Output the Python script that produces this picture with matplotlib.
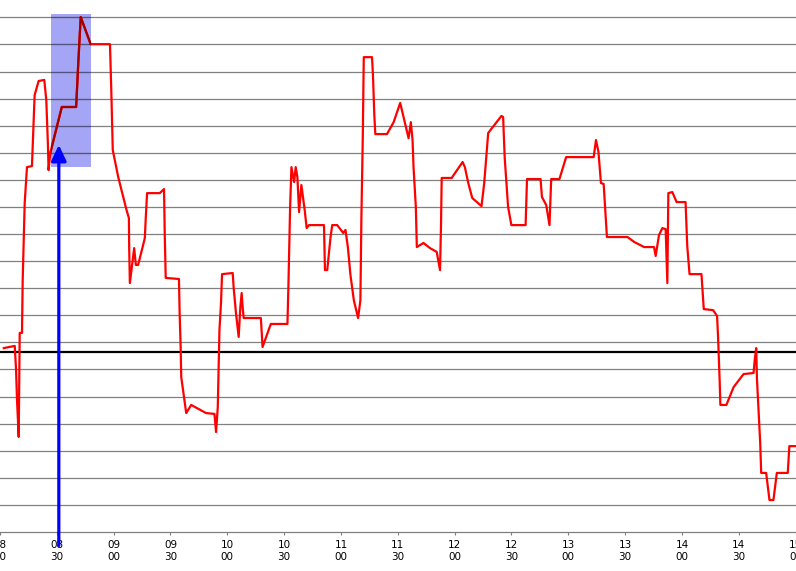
import matplotlib
matplotlib.use("Agg")
import matplotlib.pyplot as plt
from matplotlib.patches import Rectangle

# time in minutes after 08:00, value in grid units
minutes = [2.0, 7.78, 8.46, 8.98, 9.88, 10.40, 11.61, 11.98, 13.03, 14.24, 16.87, 18.28, 20.39, 23.38,
           24.43, 25.27, 25.64, 26.53, 32.63, 40.19, 41.40, 42.61, 47.86, 58.06, 58.74, 59.53, 62.42,
           66.78, 68.04, 68.20, 68.56, 69.41, 70.82, 71.72, 72.93, 76.45, 76.97, 77.65, 84.33, 86.59,
           86.95, 87.48, 94.47, 94.83, 95.36, 95.68, 98.30, 100.93, 108.81, 113.22, 114.06, 114.96,
           115.85, 116.69, 117.22, 122.84, 123.36, 124.57, 125.99, 126.88, 127.57, 128.09, 128.62,
           137.71, 138.60, 141.23, 142.96, 151.74, 152.26, 153.15, 153.84, 155.26, 156.10, 156.99,
           157.88, 159.09, 160.83, 161.88, 163.14, 171.02, 171.54, 172.75, 174.49, 175.38, 178.00,
           181.16, 182.37, 183.63, 184.99, 186.78, 189.04, 190.25, 190.77, 191.51, 192.03, 196.39,
           196.92, 197.60, 198.13, 204.28, 207.80, 211.26, 215.68, 216.88, 217.78, 218.30, 219.51,
           220.04, 223.56, 227.02, 230.54, 232.28, 232.80, 233.17, 238.43, 244.20, 245.41, 247.20,
           249.30, 254.19, 255.61, 257.71, 264.70, 265.59, 266.43, 268.22, 269.95, 277.46, 278.20,
           285.34, 286.08, 288.34, 290.07, 290.97, 295.33, 298.85, 313.40, 314.61, 315.92, 317.24,
           318.66, 320.39, 331.26, 334.73, 339.99, 345.24, 346.13, 347.87, 349.65, 351.39, 352.28,
           352.81, 354.91, 357.17, 361.90, 362.79, 364.00, 370.30, 371.51, 376.45, 378.55, 379.08,
           379.92, 380.28, 383.44, 387.27, 392.53, 397.78, 398.52, 399.20, 399.57, 400.41, 401.30,
           401.83, 404.45, 406.19, 408.29, 410.07, 415.85, 416.69, 420.21]
values = [6.79, 6.87, 6.02, 4.87, 3.51, 7.35, 7.35, 9.30, 12.14, 13.47, 13.51, 16.13, 16.65, 16.69,
          15.95, 14.36, 13.36, 13.99, 15.69, 15.69, 17.42, 19.01, 18.01, 18.01, 16.32, 14.10, 13.10,
          11.89, 11.59, 10.48, 9.19, 9.67, 10.48, 9.86, 9.86, 10.85, 11.63, 12.51, 12.51, 12.66,
          11.04, 9.38, 9.34, 8.08, 6.83, 5.72, 4.39, 4.69, 4.39, 4.36, 3.69, 4.61,
          7.46, 8.49, 9.52, 9.56, 9.01, 8.08, 7.20, 8.31, 8.82, 8.31, 7.90,
          7.90, 6.83, 7.35, 7.68, 7.68, 9.12, 12.00, 13.47, 12.92, 13.47, 13.10,
          11.81, 12.81, 11.89, 11.22, 11.33, 11.33, 9.67, 9.67, 10.89, 11.33, 11.33,
          11.04, 11.15, 10.52, 9.49, 8.56, 7.90, 8.56, 11.59, 14.58, 17.53, 17.53,
          16.80, 15.39, 14.69, 14.69, 15.13, 15.84, 14.54, 15.13, 14.47, 13.47, 12.00,
          10.52, 10.67, 10.48, 10.34, 9.67, 11.33, 13.07, 13.07, 13.66, 13.47, 12.88,
          12.33, 12.03, 12.88, 14.73, 15.36, 15.32, 13.81, 12.00, 11.33, 11.33, 13.03,
          13.03, 12.37, 12.07, 11.33, 13.03, 13.03, 13.84, 13.84, 14.47, 14.03, 12.88,
          12.85, 10.89, 10.89, 10.71, 10.52, 10.52, 10.19, 10.96, 11.22, 11.18, 9.19,
          12.51, 12.55, 12.18, 12.18, 10.56, 9.52, 9.52, 8.23, 8.19, 7.97, 7.16,
          5.54, 4.69, 4.69, 5.35, 5.83, 5.87, 6.42, 6.79, 5.68, 4.50, 3.29,
          2.18, 2.18, 1.18, 1.18, 2.18, 2.18, 3.17, 3.17]

reference_level = 6.66
arrow_time = 31.05
arrow_tip = 14.29
highlight_t0, highlight_t1 = 26.7, 48.1
highlight_v0, highlight_v1 = 13.47, 19.12

tick_minutes = list(range(0, 421, 30))
tick_labels = [f"{8 + m // 60:02d}\n{m % 60:02d}" for m in tick_minutes]

fig = plt.figure(figsize=(7.96, 5.71), dpi=100)
ax = fig.add_axes([0, 39 / 571, 1, 1 - 39 / 571])
ax.set_xlim(2.0, 420.2)
ax.set_ylim(0, 19.64)

gridvals = list(range(1, 20))
for g in gridvals:
    ax.axhline(g, color="#808080", lw=0.9, zorder=1)

rect = Rectangle((highlight_t0, highlight_v0), highlight_t1 - highlight_t0,
                 highlight_v1 - highlight_v0, facecolor="#a5a5f5", edgecolor="none", zorder=0.5)
ax.add_patch(rect)
# darkened (multiplied) gridlines inside highlight
for g in gridvals:
    l = ax.axhline(g, color="#535383", lw=0.9, zorder=1.1)
    l.set_clip_path(rect)

ax.axhline(reference_level, color="black", lw=1.6, zorder=2)
ax.plot(minutes, values, color="#ff0000", lw=1.6, zorder=3)
dark, = ax.plot(minutes, values, color="#a50000", lw=1.6, zorder=3.1)
dark.set_clip_path(rect)

ax.annotate("", xy=(arrow_time, arrow_tip), xytext=(arrow_time, -0.5),
            arrowprops=dict(arrowstyle="-|>,head_length=0.95,head_width=0.45", mutation_scale=10,
                            color="#0000ff", lw=2.3, shrinkA=0, shrinkB=0),
            zorder=4, annotation_clip=False)

ax.set_xticks(tick_minutes)
ax.set_xticklabels(tick_labels, fontsize=7.5, family="DejaVu Sans", linespacing=1.35)
ax.set_yticks([])
ax.tick_params(axis="x", direction="out", length=2.5, width=0.8, color="#808080", pad=3)
for s in ["top", "left", "right"]:
    ax.spines[s].set_visible(False)
ax.spines["bottom"].set_color("#808080")
ax.spines["bottom"].set_linewidth(0.9)

fig.savefig("out.png", dpi=100)
